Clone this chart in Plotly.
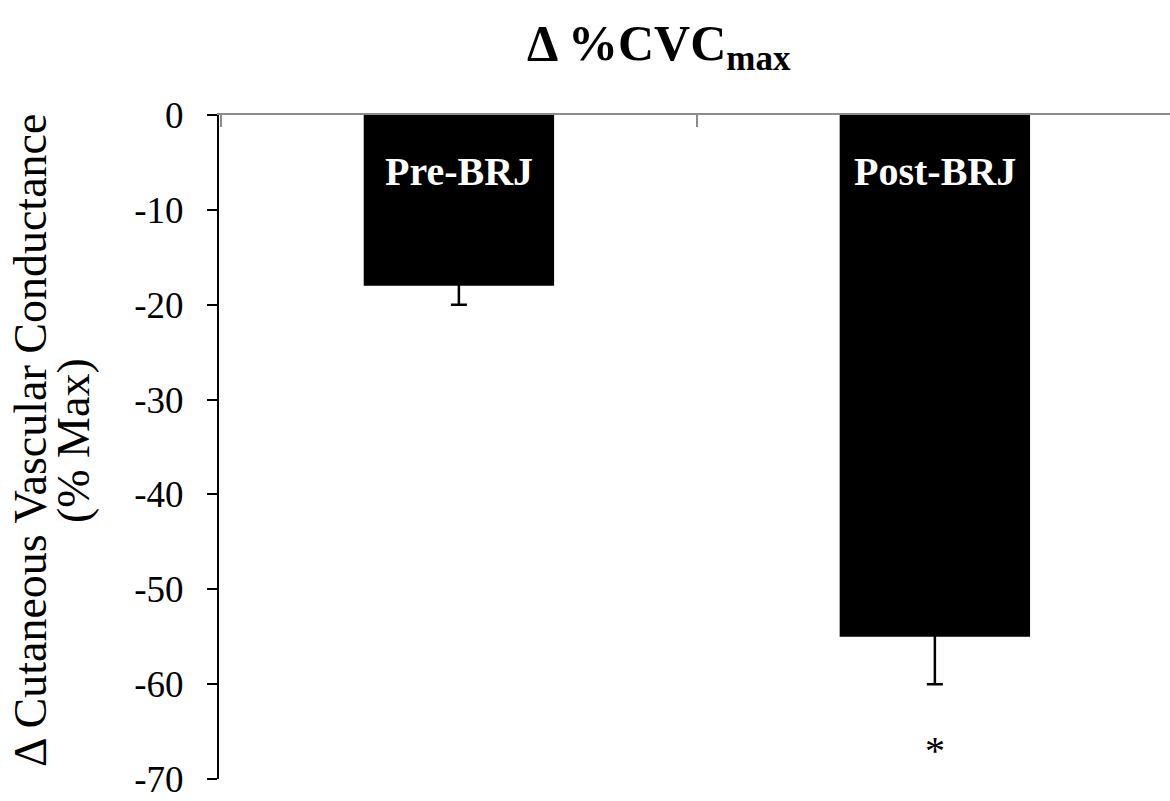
import plotly.graph_objects as go

categories = ["Pre-BRJ", "Post-BRJ"]
values = [-18, -55]
errors = [2, 5]
sig_marks = ["", "*"]
sig_y = [None, -67]
y_ticks = [0, -10, -20, -30, -40, -50, -60, -70]
y_title_lines = ["Δ Cutaneous Vascular Conductance", "(% Max)"]

SERIF = "Liberation Serif, Times New Roman, serif"

fig = go.Figure()
fig.add_trace(go.Bar(
    x=categories, y=values, width=0.4,
    marker=dict(color="black", line=dict(width=0)),
    error_y=dict(type="data", array=errors, symmetric=True,
                 color="black", thickness=2.5, width=8),
    showlegend=False,
))

annotations = []
for c in categories:
    annotations.append(dict(x=c, y=-6, xref="x", yref="y", text="<b>%s</b>" % c,
                            showarrow=False, font=dict(family=SERIF, size=40, color="white"),
                            xanchor="center", yanchor="middle"))
for c, m, yy in zip(categories, sig_marks, sig_y):
    if m:
        annotations.append(dict(x=c, y=yy, xref="x", yref="y", text=m, showarrow=False,
                                font=dict(family=SERIF, size=40, color="black"),
                                xanchor="center", yanchor="middle"))
for line, px in zip(y_title_lines, [30, 73]):
    annotations.append(dict(x=(px - 219) / 951, y=0.509, xref="paper", yref="paper",
                            text=line, textangle=-90, showarrow=False,
                            font=dict(family=SERIF, size=46, color="black"),
                            xanchor="center", yanchor="middle"))

fig.update_layout(
    width=1170, height=801,
    margin=dict(l=219, r=0, t=115, b=22),
    paper_bgcolor="white", plot_bgcolor="white",
    title=dict(text="<b>Δ %CVC<sub>max</sub></b>", x=0.563, xanchor="center",
               y=1 - 42 / 801, yanchor="middle",
               font=dict(family=SERIF, size=50, color="black")),
    annotations=annotations,
    bargap=0.6,
)
fig.update_xaxes(
    side="top", range=[-0.504, 1.494], showline=True, linecolor="#8c8c8c", linewidth=2,
    ticks="inside", tickson="boundaries", ticklen=12, tickwidth=2, tickcolor="#8c8c8c",
    showticklabels=False, showgrid=False, zeroline=False,
)
fig.update_yaxes(
    range=[-70, 0], tickvals=y_ticks, ticktext=[str(v) for v in y_ticks],
    showline=True, linecolor="black", linewidth=2,
    ticks="outside", ticklen=10, tickwidth=2, tickcolor="black",
    ticklabelstandoff=16,
    tickfont=dict(family=SERIF, size=37, color="black"),
    showgrid=False, zeroline=False,
)

fig.write_html("out.html")
